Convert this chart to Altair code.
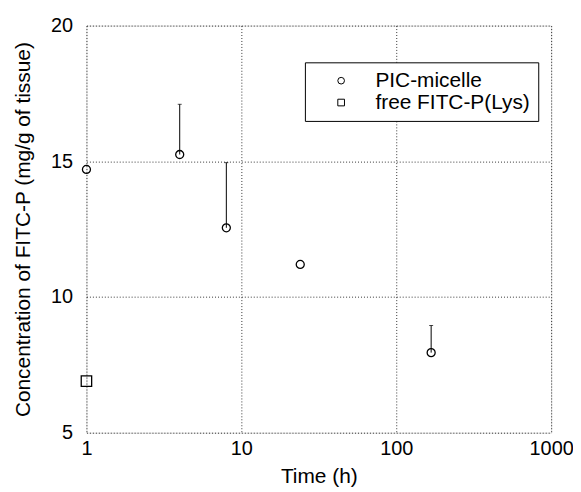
import altair as alt
import pandas as pd

# PIC-micelle
pic_time = [1, 4, 8, 24, 168]
pic_conc = [14.7, 15.25, 12.55, 11.2, 7.95]
pic_err_top = [14.7, 17.1, 14.95, 11.2, 8.95]

# free FITC-P(Lys)
free_time = [1]
free_conc = [6.9]

series_names = ["PIC-micelle", "free FITC-P(Lys)"]
x_ticks = [1, 10, 100, 1000]
y_ticks = [5, 10, 15, 20]

pts = pd.DataFrame({
    "time": pic_time + free_time,
    "conc": pic_conc + free_conc,
    "series": [series_names[0]] * len(pic_time) + [series_names[1]] * len(free_time),
})
err = pd.DataFrame({"time": pic_time, "lo": pic_conc, "hi": pic_err_top})
err = err[err["hi"] > err["lo"] + 0.05]

FONT = "Liberation Sans"

xscale = alt.Scale(type="log", domain=[1, 1000])
yscale = alt.Scale(domain=[5, 20])

xaxis = alt.Axis(values=x_ticks, format="d", title="Time (h)", grid=True,
                 gridDash=[1, 2], gridColor="black", gridOpacity=0.8, gridWidth=1,
                 ticks=False, domain=False, labelFontSize=20, labelFont=FONT,
                 labelColor="black", labelPadding=6, titleFont=FONT, titleFontSize=21,
                 titleFontWeight="normal", titleColor="black", titlePadding=7,
                 labelFlush=False)
yaxis = alt.Axis(values=y_ticks, title="Concentration of FITC-P (mg/g of tissue)", grid=True,
                 gridDash=[1, 2], gridColor="black", gridOpacity=0.8, gridWidth=1,
                 ticks=False, domain=False, labelFontSize=20, labelFont=FONT,
                 labelColor="black", labelPadding=14, titleFont=FONT, titleFontSize=21,
                 titleFontWeight="normal", titleColor="black", titlePadding=17,
                 labelFlush=False)

shape_enc = alt.Shape("series:N",
                      scale=alt.Scale(domain=series_names, range=["circle", "square"]),
                      legend=alt.Legend(title=None, orient="none", legendX=220, legendY=37,
                                        labelFont=FONT, labelFontSize=21, labelColor="black",
                                        symbolSize=45, symbolStrokeColor="black",
                                        symbolStrokeWidth=1, symbolFillColor="white",
                                        strokeColor="black", fillColor="white",
                                        padding=8, rowPadding=0, labelOffset=24,
                                        symbolOffset=18, labelLimit=300))

base = alt.Chart(pts)

circles = base.transform_filter(alt.datum.series == series_names[0]).mark_point(
    filled=False, color="black", strokeWidth=1.3, opacity=1, size=65).encode(
    x=alt.X("time:Q", scale=xscale, axis=xaxis),
    y=alt.Y("conc:Q", scale=yscale, axis=yaxis),
    shape=shape_enc,
)
squares = base.transform_filter(alt.datum.series == series_names[1]).mark_point(
    filled=False, color="black", strokeWidth=1.3, opacity=1, size=110).encode(
    x=alt.X("time:Q", scale=xscale),
    y=alt.Y("conc:Q", scale=yscale),
    shape=shape_enc,
)

rules = alt.Chart(err).mark_rule(color="black", strokeWidth=1).encode(
    x=alt.X("time:Q", scale=xscale),
    y=alt.Y("lo:Q", scale=yscale),
    y2="hi:Q",
)
caps = alt.Chart(err).mark_tick(color="black", orient="horizontal", size=4, thickness=1).encode(
    x=alt.X("time:Q", scale=xscale),
    y=alt.Y("hi:Q", scale=yscale),
)

chart = alt.layer(rules, caps, circles, squares).properties(
    width=468, height=410,
    autosize=alt.AutoSizeParams(type="none"),
    padding={"left": 79, "top": 16, "right": 22, "bottom": 58},
).configure_view(stroke="black", strokeWidth=1.5).configure(background="white")

chart.save("out.html", embed_options={"renderer": "svg", "actions": False})
